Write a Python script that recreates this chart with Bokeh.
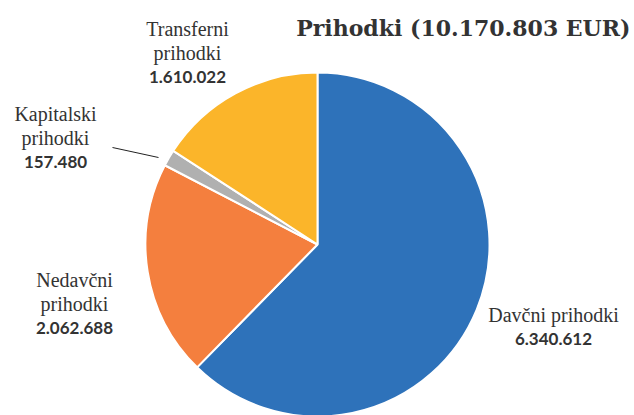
import math
from bokeh.plotting import figure
from bokeh.models import ColumnDataSource, Range1d
from bokeh.core.properties import value
from bokeh.embed import file_html
from bokeh.resources import INLINE

categories = ["Davčni prihodki", "Nedavčni prihodki", "Kapitalski prihodki", "Transferni prihodki"]
values = [6340612, 2062688, 157480, 1610022]
value_labels = ["6.340.612", "2.062.688", "157.480", "1.610.022"]
colors = ["#2E72BA", "#F47F3E", "#B0B0B0", "#FBB52A"]
title_text = "Prihodki (10.170.803 EUR)"

W, H = 634, 415
CX, CY, R = 317, 244, 172

def Y(y):
    return H - y

total = sum(values)
starts, ends = [], []
a = math.pi / 2
for v in values:
    starts.append(a)
    a -= 2 * math.pi * v / total
    ends.append(a)

src = ColumnDataSource(dict(start=starts, end=ends, color=colors))

p = figure(width=W, height=H, x_range=Range1d(0, W), y_range=Range1d(0, H),
           output_backend="svg", toolbar_location=None, min_border=0)
p.axis.visible = False
p.grid.visible = False
p.outline_line_color = None
p.background_fill_color = "white"

p.wedge(x=CX, y=Y(CY), radius=R, start_angle="start", end_angle="end",
        direction="clock", fill_color="color", line_color="white", line_width=2, source=src)

# leader line for small slice
p.line(x=[112, 158], y=[Y(147), Y(157)], line_color="#222222", line_width=1)

# label layout: (center x, first line y) per category, lines of name text
label_layout = [
    (553, 314, ["Davčni prihodki"]),
    (74, 279, ["Nedavčni", "prihodki"]),
    (55, 113, ["Kapitalski", "prihodki"]),
    (187, 28, ["Transferni", "prihodki"]),
]
LS = 24
for (lx, ly, lines), vl in zip(label_layout, value_labels):
    for i, t in enumerate(lines):
        p.text(x=[lx], y=[Y(ly + i * LS)], text=[t], text_align="center", text_baseline="middle",
               text_font=value("Liberation Serif"), text_font_size="20px", text_color="#333333")
    p.text(x=[lx], y=[Y(ly + len(lines) * LS)], text=[vl], text_align="center", text_baseline="middle",
           text_font=value("Lato"), text_font_style="bold", text_font_size="17px", text_color="#333333")

p.text(x=[630], y=[Y(27)], text=[title_text], text_align="right", text_baseline="middle",
       text_font=value("DejaVu Serif"), text_font_style="bold", text_font_size="22px", text_color="#333333")

open("out.html", "w").write(file_html(p, INLINE))
